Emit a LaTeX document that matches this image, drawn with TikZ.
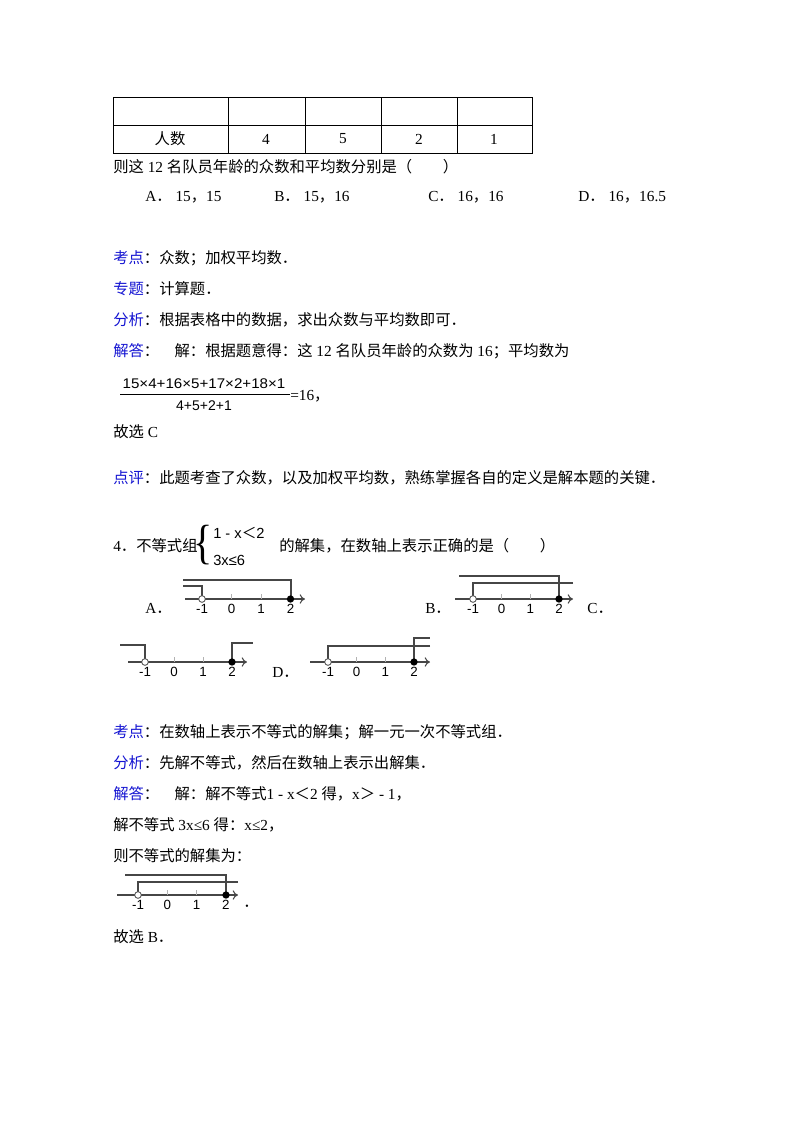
\documentclass[tikz,border=0pt]{standalone}
\usepackage{fontspec}
\setmainfont{Liberation Serif}
\newfontfamily\cjk{Noto Sans CJK SC}
\newfontfamily\lab{Liberation Sans}
\usetikzlibrary{arrows.meta}
\definecolor{kblue}{RGB}{20,20,210}
\definecolor{ln}{RGB}{70,70,70}
\tikzset{
 txt/.style={anchor=west,inner sep=0pt,font=\fontsize{11.5pt}{13pt}\selectfont},
 axis/.style={ln,line width=0.8pt,-{To[length=4pt,width=7pt]}},
 reg/.style={ln,line width=0.8pt},
 tk/.style={gray!60,line width=0.6pt},
 nl/.style={inner sep=0pt,font=\lab\fontsize{10pt}{11pt}\selectfont},
 opendot/.style={circle,draw=ln,fill=white,inner sep=0pt,minimum size=5pt,line width=0.6pt},
 fulldot/.style={circle,fill=black,inner sep=0pt,minimum size=5.5pt},
}
\newcommand{\C}[1]{{\cjk #1}}
\newcommand{\B}[1]{{\cjk\color{kblue}#1}}
\newcommand{\numline}[6]{% name, x0 (start), y axis, xm1, spacing, xend
 \draw[axis] (#2,#3) -- (#6,#3);
 \draw[tk] ({#4+#5},#3) -- ({#4+#5},{#3-5});
 \draw[tk] ({#4+2*#5},#3) -- ({#4+2*#5},{#3-5});
 \node[nl] (#1m) at (#4,{#3+10}) {-1};
 \node[nl] (#1z) at ({#4+#5},{#3+10}) {0};
 \node[nl] (#1o) at ({#4+2*#5},{#3+10}) {1};
 \node[nl] (#1t) at ({#4+3*#5},{#3+10}) {2};
}
\begin{document}
\begin{tikzpicture}[x=0.75pt,y=-0.75pt]
\useasboundingbox (0,0) rectangle (800,1132);
\fill[white] (0,0) rectangle (800,1132);
% table
\draw[black,line width=0.6pt] (113,97) rectangle (532,153);
\draw[black,line width=0.6pt] (113,125) -- (532,125);
\foreach \x in {228,305,381,457} \draw[black,line width=0.6pt] (\x,97) -- (\x,153);
\node[inner sep=0pt,font=\fontsize{11.5pt}{13pt}\selectfont] (t0) at (170,139) {\C{人数}};
\node[inner sep=0pt,font=\fontsize{11.5pt}{13pt}\selectfont] (t1) at (266,139) {4};
\node[inner sep=0pt,font=\fontsize{11.5pt}{13pt}\selectfont] (t2) at (343,139) {5};
\node[inner sep=0pt,font=\fontsize{11.5pt}{13pt}\selectfont] (t3) at (419,139) {2};
\node[inner sep=0pt,font=\fontsize{11.5pt}{13pt}\selectfont] (t4) at (494,139) {1};
\node[txt] (q3) at (113,167) {\C{则这} 12 \C{名队员年龄的众数和平均数分别是（　　）}};
\node[txt] (oa) at (145,197) {A\C{．} 15\C{，}15};
\node[txt] (ob) at (274,197) {B\C{．} 15\C{，}16};
\node[txt] (oc) at (428,197) {C\C{．} 16\C{，}16};
\node[txt] (od) at (578,197) {D\C{．} 16\C{，}16.5};
\node[txt] (k1) at (113,258) {\B{考点}\C{：众数；加权平均数．}};
\node[txt] (z1) at (113,289) {\B{专题}\C{：计算题．}};
\node[txt] (f1) at (113,320) {\B{分析}\C{：根据表格中的数据，求出众数与平均数即可．}};
\node[txt] (j1) at (113,351) {\B{解答}\C{：　解：根据题意得：这} 12 \C{名队员年龄的众数为} 16\C{；平均数为}};
\node[inner sep=0pt,font=\lab\fontsize{10.5pt}{12pt}\selectfont,xscale=1.08] (num) at (204,384) {15×4+16×5+17×2+18×1};
\node[inner sep=0pt,font=\lab\fontsize{10.5pt}{12pt}\selectfont] (den) at (204,406) {4+5+2+1};
\draw[black,line width=0.6pt] (120,394) -- (290,394);
\node[txt] (eq) at (290,396) {=16\C{，}};
\node[txt] (g1) at (113,432) {\C{故选} C};
\node[txt] (d1) at (113,478) {\B{点评}\C{：此题考查了众数，以及加权平均数，熟练掌握各自的定义是解本题的关键．}};
% question 4
\node[txt] (q4) at (113,546) {4\C{．不等式组}};
\node[inner sep=0pt,font=\fontsize{30pt}{30pt}\selectfont,yscale=1.2] (br) at (203,545) {\{};
\node[txt,font=\lab\fontsize{11pt}{12pt}\selectfont] (s1) at (213,533) {1 - x\C{＜}2};
\node[txt,font=\lab\fontsize{11pt}{12pt}\selectfont] (s2) at (213,560) {3x≤6};
\node[txt] (q4b) at (279,546) {\C{的解集，在数轴上表示正确的是（　　）}};
% A
\node[txt] (la) at (145,608) {A\C{．}};
\numline{A}{185}{599}{202}{29.5}{305}
\draw[reg] (183,580) -- (291,580) -- (291,599);
\draw[reg] (183,586) -- (202,586) -- (202,599);
\node[opendot] (Aod) at (202,599) {};
\node[fulldot] (Afd) at (290.5,599) {};
% B
\node[txt] (lb) at (425,608) {B\C{．}};
\numline{B}{455}{599}{473}{28.7}{573}
\draw[reg] (459,576) -- (559,576) -- (559,599);
\draw[reg] (573,583) -- (473,583) -- (473,599);
\node[opendot] (Bod) at (473,599) {};
\node[fulldot] (Bfd) at (559,599) {};
\node[txt] (lc) at (587,608) {C\C{．}};
% C
\numline{C}{128}{662}{145}{29}{247}
\draw[reg] (120,645) -- (145,645) -- (145,662);
\draw[reg] (232,662) -- (232,643) -- (253,643);
\node[opendot] (Cod) at (145,662) {};
\node[fulldot] (Cfd) at (232,662) {};
\node[txt] (ld) at (272,672) {D\C{．}};
% D
\numline{D}{310}{662}{328}{28.7}{430}
\draw[reg] (430,646) -- (328,646) -- (328,662);
\draw[reg] (414,662) -- (414,638) -- (430,638);
\node[opendot] (Dod) at (328,662) {};
\node[fulldot] (Dfd) at (414,662) {};
% solution
\node[txt] (k2) at (113,732) {\B{考点}\C{：在数轴上表示不等式的解集；解一元一次不等式组．}};
\node[txt] (f2) at (113,763) {\B{分析}\C{：先解不等式，然后在数轴上表示出解集．}};
\node[txt] (j2) at (113,794) {\B{解答}\C{：　解：解不等式}1 - x\C{＜}2 \C{得，}x\C{＞} - 1\C{，}};
\node[txt] (j3) at (113,825) {\C{解不等式} 3x≤6 \C{得：}x≤2\C{，}};
\node[txt] (j4) at (113,856) {\C{则不等式的解集为：}};
\numline{E}{117}{895}{138}{29.3}{238}
\draw[reg] (125,875) -- (226,875) -- (226,895);
\draw[reg] (238,882) -- (138,882) -- (138,895);
\node[opendot] (Eod) at (138,895) {};
\node[fulldot] (Efd) at (226,895) {};
\node[txt] (dot) at (243,906) {\C{．}};
\node[txt] (g2) at (113,937) {\C{故选} B\C{．}};
\end{tikzpicture}
\end{document}
